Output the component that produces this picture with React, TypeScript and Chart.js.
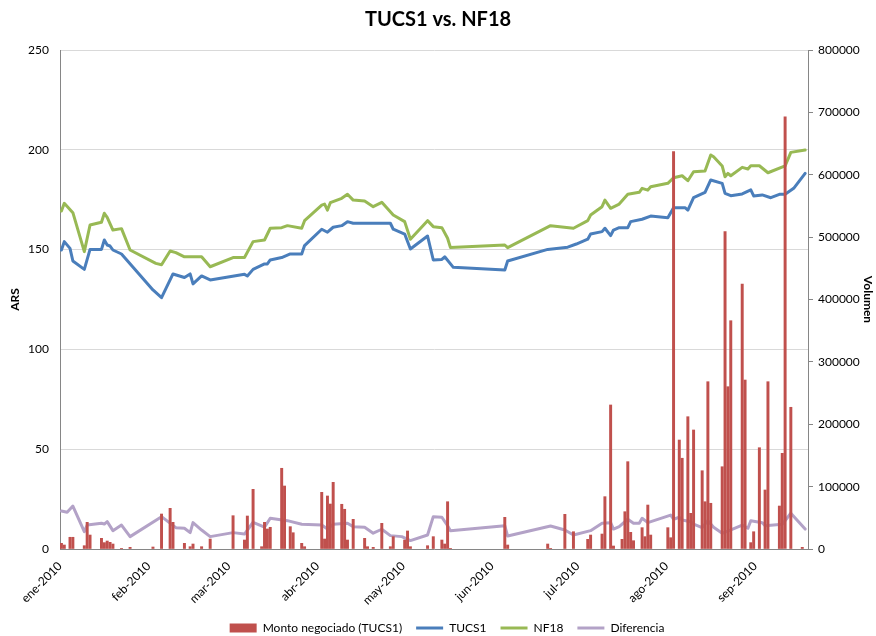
import React, { useEffect, useRef } from 'react';
import { Chart, registerables } from 'chart.js';

Chart.register(...registerables);

// Day offsets (from the first trading day) of the monthly axis labels
const monthStarts = [0, 31, 59, 90, 120, 151, 181, 212, 243];
const monthLabels = ['ene-2010', 'feb-2010', 'mar-2010', 'abr-2010', 'may-2010', 'jun-2010', 'jul-2010', 'ago-2010', 'sep-2010'];

const leftTicks = [0, 50, 100, 150, 200, 250];
const rightTicks = [0, 100000, 200000, 300000, 400000, 500000, 600000, 700000, 800000];

const nf18Days = [0, 1, 4, 8, 10, 14, 15, 16, 18, 21, 24, 33, 35, 38, 40, 43, 46, 49, 52, 60, 64, 67, 71, 73, 77, 79, 84, 85, 91, 92, 93, 94, 98, 100, 102, 106, 109, 112, 116, 120, 122, 128, 130, 133, 135, 136, 155, 156, 171, 179, 184, 185, 189, 190, 192, 195, 198, 202, 203, 205, 206, 212, 214, 217, 219, 221, 225, 227, 228, 231, 232, 233, 234, 238, 240, 241, 244, 247, 253, 255, 260];
const nf18Values = [169.3, 173.2, 168.5, 149, 162.3, 163.7, 168.2, 166.2, 159.8, 160.5, 149.8, 143.1, 142.4, 149.3, 148.5, 146.4, 146.4, 146.4, 141.4, 146, 146, 154, 154.8, 160.7, 161, 162, 160.7, 164.5, 172.3, 172.8, 169.8, 173.5, 175.7, 177.7, 174.8, 174.3, 171.5, 173.7, 167.3, 164, 155.2, 164.5, 161.5, 161, 155.7, 151, 152.3, 151, 162, 160.7, 164.5, 167.3, 171.5, 174.8, 170.7, 172.8, 177.7, 178.7, 180.7, 179.8, 181.5, 183.2, 186, 187, 184.5, 189, 189.4, 197.4, 196.5, 191.9, 186.5, 188.2, 187, 191.2, 190.4, 192, 192, 188.5, 191.9, 198.7, 199.9];

const tucs1Days = [0, 1, 3, 4, 8, 10, 14, 15, 16, 17, 18, 21, 32, 35, 39, 43, 45, 46, 49, 52, 64, 65, 67, 71, 72, 73, 77, 80, 84, 85, 91, 93, 95, 98, 100, 102, 115, 116, 120, 122, 128, 130, 133, 134, 137, 155, 156, 170, 177, 180, 184, 185, 189, 190, 192, 193, 195, 198, 199, 203, 206, 212, 214, 218, 219, 221, 225, 227, 231, 232, 234, 238, 241, 242, 245, 248, 251, 253, 256, 260];
const tucs1Values = [149.8, 154, 150.6, 144.3, 140.1, 150.1, 150.1, 154.8, 152.3, 151.8, 149.8, 147.8, 129.8, 125.9, 137.8, 136, 137.8, 132.8, 136.8, 134.8, 137.6, 136.8, 140.1, 142.8, 142.8, 144.8, 146, 147.8, 147.8, 152, 160.2, 158.7, 161.2, 162, 164, 163.2, 163.2, 160.2, 157.8, 150.3, 156.8, 144.8, 145.1, 146.4, 141.1, 139.8, 144.3, 150.1, 151.2, 152.8, 155.2, 157.8, 159, 160.7, 157, 159.8, 161, 161, 164, 165.2, 166.8, 166, 171, 171, 169.8, 176, 178.7, 184.9, 183.2, 178.2, 177, 177.9, 179.9, 176.9, 177.4, 176, 177.7, 177.7, 180.7, 188.2];

const difDays = [0, 2, 4, 8, 9, 14, 15, 16, 18, 21, 24, 35, 40, 43, 45, 46, 49, 52, 60, 64, 67, 71, 73, 79, 84, 91, 93, 95, 100, 102, 106, 109, 112, 115, 119, 122, 128, 130, 133, 135, 136, 155, 156, 171, 176, 179, 185, 189, 192, 193, 195, 198, 200, 202, 203, 205, 213, 214, 216, 217, 220, 221, 224, 226, 228, 231, 233, 238, 240, 241, 245, 246, 252, 255, 260];
const difValues = [19, 18.4, 21.5, 8.7, 12, 12.9, 12.5, 13.7, 9.2, 12, 6.2, 16.2, 10.7, 10.4, 8.2, 13.2, 9.5, 6.2, 8.2, 7.5, 13.4, 10.9, 15.4, 14.2, 12.4, 12, 10, 12.4, 12.9, 11.2, 10.9, 7.9, 9.9, 6.7, 6.2, 4.2, 7, 16.2, 15.9, 11.7, 9.2, 11.7, 6.5, 11.5, 9.5, 7, 9.2, 12.9, 13.2, 10, 11.2, 14.9, 12.9, 12.9, 15.4, 13.2, 17, 14.9, 15.9, 14.5, 13.7, 12.5, 10.7, 14.2, 10.9, 7.9, 9, 12, 10.4, 14.2, 13.2, 11.7, 12.4, 17.9, 10];

const montoDays = [0, 1, 3, 4, 8, 9, 10, 14, 15, 16, 17, 18, 21, 24, 32, 35, 38, 39, 43, 45, 46, 49, 52, 60, 64, 65, 67, 70, 71, 72, 73, 77, 78, 80, 81, 84, 85, 91, 92, 93, 94, 95, 98, 99, 100, 102, 106, 107, 109, 112, 115, 116, 120, 121, 122, 128, 130, 133, 134, 135, 136, 155, 156, 170, 171, 176, 179, 184, 185, 189, 190, 192, 193, 196, 197, 198, 199, 200, 203, 204, 205, 206, 212, 213, 214, 216, 217, 219, 220, 221, 224, 225, 226, 227, 231, 232, 233, 234, 238, 239, 241, 242, 244, 246, 247, 251, 252, 253, 255, 259];
const montoValues = [9100, 6400, 18800, 18800, 5300, 42800, 22400, 17100, 10200, 12800, 10700, 8000, 1100, 2700, 3200, 56100, 65200, 42800, 9100, 3700, 8000, 3700, 16000, 53400, 14400, 52900, 95700, 3700, 42800, 32100, 34800, 129400, 101000, 35800, 26100, 9100, 3700, 90900, 16000, 85000, 72100, 106900, 71700, 63700, 14400, 47600, 17100, 3700, 2700, 41200, 3700, 19800, 14400, 28900, 3700, 5300, 19800, 14400, 8000, 75800, 1100, 50800, 6400, 8000, 1100, 55600, 27700, 15500, 22400, 24000, 83900, 230900, 4800, 15500, 59800, 140000, 26700, 13300, 34200, 19800, 70500, 22400, 34200, 18100, 637000, 174700, 145500, 212100, 57200, 190800, 125500, 75800, 268200, 73300, 131900, 508700, 260200, 366000, 424800, 270900, 10200, 27700, 162400, 94600, 268200, 68900, 153400, 693000, 227200, 2700];

const toPoints = (xs: number[], ys: number[]) => xs.map((x, i) => ({ x, y: ys[i] }));

const shiftLegend = {
  id: 'shiftLegend',
  afterLayout(chart: any) {
    const l = chart.legend;
    if (l) {
      l.left += 9;
      l.right += 9;
    }
  },
};

export default function App() {
  const ref = useRef<HTMLCanvasElement>(null);

  useEffect(() => {
    if (!ref.current) return;
    Chart.defaults.font.family = "Lato, 'Open Sans', sans-serif";
    Chart.defaults.color = '#000';
    const lineCommon = {
      type: 'line' as const,
      yAxisID: 'y',
      borderWidth: 3,
      pointRadius: 0,
      pointHoverRadius: 0,
      tension: 0,
      fill: false,
      pointStyle: 'line' as const,
      borderJoinStyle: 'round' as const,
      borderCapStyle: 'round' as const,
    };
    const chart = new Chart(ref.current, {
      type: 'line',
      data: {
        datasets: [
          {
            type: 'bar',
            label: 'Monto negociado (TUCS1)',
            data: toPoints(montoDays, montoValues),
            yAxisID: 'y1',
            backgroundColor: '#C0504D',
            borderWidth: 0,
            barThickness: 2.3,
            order: 0,
            pointStyle: 'rect',
          } as any,
          { ...lineCommon, label: 'TUCS1', data: toPoints(tucs1Days, tucs1Values), borderColor: '#4A7EBB', backgroundColor: '#4A7EBB', order: 1 },
          { ...lineCommon, label: 'NF18', data: toPoints(nf18Days, nf18Values), borderColor: '#98B954', backgroundColor: '#98B954', order: 2 },
          { ...lineCommon, label: 'Diferencia', data: toPoints(difDays, difValues), borderColor: '#B3A2C7', backgroundColor: '#B3A2C7', order: 3 },
        ],
      },
      options: {
        responsive: false,
        animation: false,
        events: [],
        layout: { padding: { left: 0, right: 0, top: 0, bottom: -8 } },
        plugins: {
          title: {
            display: true,
            text: 'TUCS1 vs. NF18',
            color: '#000',
            font: { size: 20, weight: 'bold' },
            padding: { top: 8, bottom: 18 },
          },
          legend: {
            position: 'bottom',
            labels: {
              usePointStyle: true,
              pointStyleWidth: 27,
              boxHeight: 9,
              padding: 14,
              color: '#000',
              font: { size: 12 },
            },
          },
          tooltip: { enabled: false },
        },
        scales: {
          x: {
            type: 'linear',
            min: -0.5,
            max: 261,
            offset: false,
            grid: { display: false },
            border: { display: true, color: '#868686', width: 1 },
            afterBuildTicks: (scale: any) => {
              scale.ticks = monthStarts.map((m) => ({ value: m - 0.5 }));
            },
            afterFit: (scale: any) => {
              scale.height = 59;
            },
            ticks: {
              autoSkip: false,
              minRotation: 45,
              maxRotation: 45,
              padding: 2,
              color: '#000',
              font: { size: 12 },
              callback: (_v: any, i: number) => monthLabels[i],
            },
          },
          y: {
            position: 'left',
            min: 0,
            max: 250,
            afterBuildTicks: (scale: any) => {
              scale.ticks = leftTicks.map((v) => ({ value: v }));
            },
            afterFit: (scale: any) => {
              scale.width = 60;
            },
            grid: { color: '#D9D9D9', drawTicks: false, lineWidth: 1 },
            border: { display: true, color: '#868686', width: 1 },
            ticks: { padding: 11, color: '#000', font: { size: 12 } },
            title: {
              display: true,
              text: 'ARS',
              color: '#000',
              font: { size: 12, weight: 'bold' },
              padding: { top: 8, bottom: 0 },
            },
          },
          y1: {
            position: 'right',
            min: 0,
            max: 800000,
            afterBuildTicks: (scale: any) => {
              scale.ticks = rightTicks.map((v) => ({ value: v }));
            },
            afterFit: (scale: any) => {
              scale.width = 68;
            },
            grid: { drawOnChartArea: false, drawTicks: true, tickLength: 5, color: '#868686' },
            border: { display: true, color: '#868686', width: 1 },
            ticks: { padding: 5, color: '#000', font: { size: 12 }, callback: (v: any) => String(v) },
            title: {
              display: true,
              text: 'Volumen',
              color: '#000',
              font: { size: 12, weight: 'bold' },
              padding: { top: 1, bottom: 0 },
            },
          },
        },
      } as any,
      plugins: [shiftLegend],
    });
    return () => chart.destroy();
  }, []);

  return (
    <div style={{ position: 'absolute', left: 0, top: 0, width: 876, height: 636, background: '#fff' }}>
      <canvas ref={ref} width={876} height={636} style={{ display: 'block' }} />
    </div>
  );
}
